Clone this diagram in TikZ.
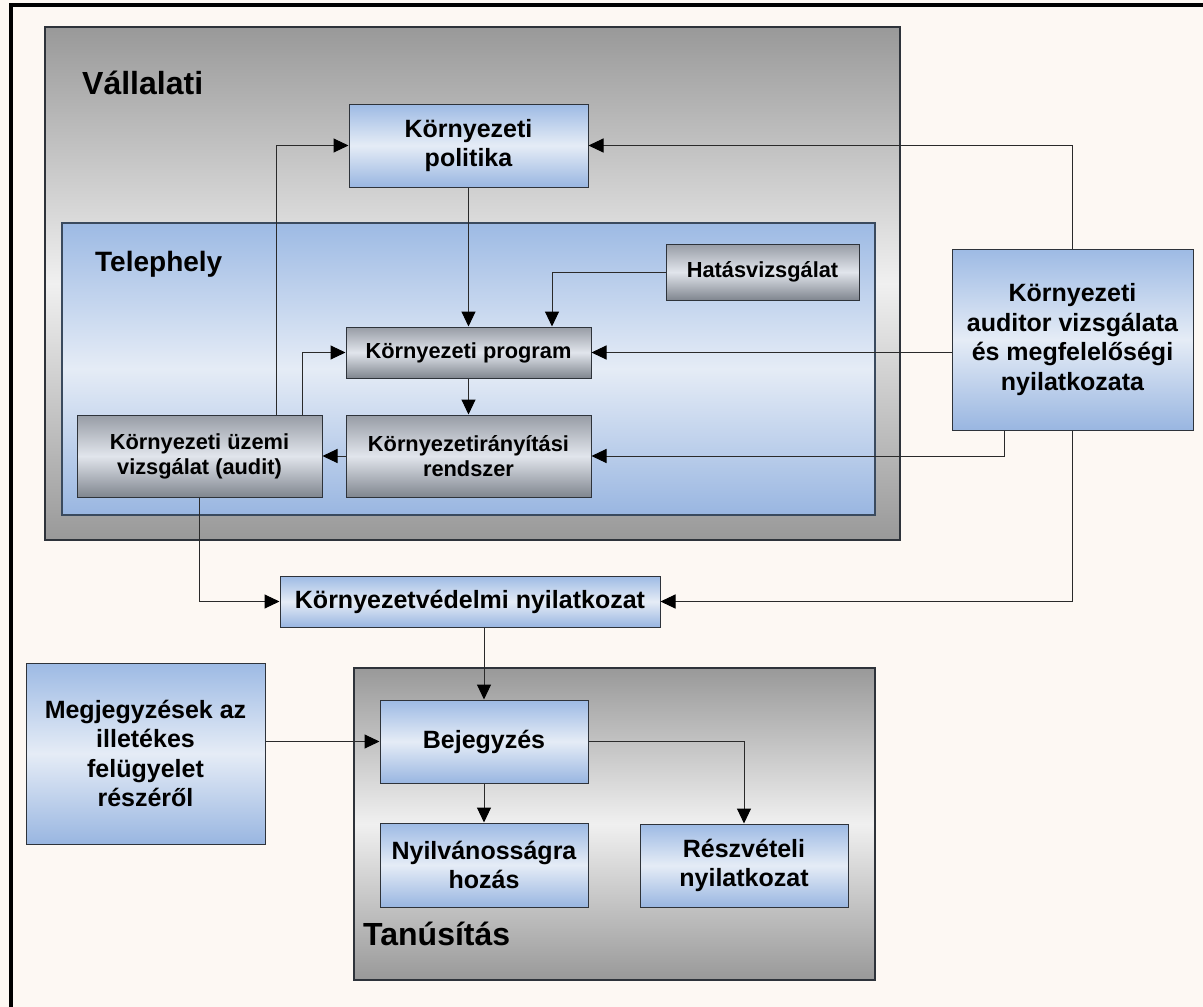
\documentclass[tikz,border=0pt]{standalone}
\usepackage{fontspec}
\setmainfont{Liberation Sans}
\usetikzlibrary{arrows.meta}

% colours
\definecolor{paper}{HTML}{FDF8F3}
\definecolor{grayedge}{HTML}{999999}
\definecolor{graymid}{HTML}{F0F0F0}
\definecolor{bluetop}{HTML}{9DBAE4}
\definecolor{bluemid}{HTML}{E5ECF6}
\definecolor{bluebot}{HTML}{99B6E1}
\definecolor{steeltop}{HTML}{979CA5}
\definecolor{steelmid}{HTML}{E1E5EC}
\definecolor{steelbot}{HTML}{80868F}
\definecolor{edge}{HTML}{2E333A}
\definecolor{siteedge}{HTML}{3A4A5E}
\definecolor{wire}{HTML}{2A2A2A}

% mirrored vertical shadings (bottom -> top)
\pgfdeclareverticalshading{greyband}{100bp}{color(0bp)=(grayedge); color(25bp)=(grayedge); color(50bp)=(graymid); color(75bp)=(grayedge); color(100bp)=(grayedge)}
\pgfdeclareverticalshading{blueband}{100bp}{color(0bp)=(bluebot); color(25bp)=(bluebot); color(50bp)=(bluemid); color(75bp)=(bluetop); color(100bp)=(bluetop)}
\pgfdeclareverticalshading{steelband}{100bp}{color(0bp)=(steelbot); color(25bp)=(steelbot); color(50bp)=(steelmid); color(75bp)=(steeltop); color(100bp)=(steeltop)}

\tikzset{
  area/.style={draw=edge, line width=1.2pt},
  areatitle/.style={anchor=base west, inner sep=0pt, font=\bfseries\fontsize{32}{36}\selectfont},
  bluebox/.style={draw=edge, line width=1pt, shading=blueband, align=center, inner sep=0pt,
    font=\bfseries\fontsize{25}{29.5}\selectfont},
  steelbox/.style={draw=edge, line width=1pt, shading=steelband, align=center, inner sep=0pt,
    font=\bfseries\fontsize{21.8}{25}\selectfont},
  box/.style n args={2}{minimum width=#1pt, minimum height=#2pt},
  arr/.style={draw=wire, line width=1pt, -{Triangle[length=15pt,width=14pt,color=black]}},
}

\begin{document}
\begin{tikzpicture}[x=1pt,y=-1pt]
\useasboundingbox (0,0) rectangle (1203,1007);
\fill[paper] (0,0) rectangle (1203,1007);
% outer frame, running off the right and bottom edges
\draw[black, line width=4pt] (11,1020) -- (11,5) -- (1220,5);

% grouping areas
\path[area, shading=greyband] (45,27) rectangle (900,540);
\node[areatitle] (vallt) at (82,94) {Vállalati};
\path[area, shading=blueband, draw=siteedge, line width=1.6pt] (62,223) rectangle (875,515);
\node[areatitle, font=\bfseries\fontsize{28}{32}\selectfont] (telt) at (95,271) {Telephely};
\path[area, shading=greyband] (354,668) rectangle (875,980);
\node[areatitle] (tant) at (363,945) {Tanúsítás};

% process boxes
\node[bluebox, box={239}{83}] (pol) at (468.5,145.5) {Környezeti\\politika};
\node[steelbox, box={193}{56}] (hat) at (762.5,272) {Hatásvizsgálat};
\node[steelbox, box={245}{51}] (prog) at (468.5,352.5) {Környezeti program};
\node[steelbox, box={245}{82}] (ems) at (468.5,456) {Környezetirányítási\\rendszer};
\node[steelbox, box={245}{82}] (audit) at (199.5,456) {Környezeti üzemi\\vizsgálat (audit)};
\node[bluebox, box={241}{181}] (auditor) at (1072.5,339.5) {Környezeti\\auditor vizsgálata\\és megfelelőségi\\nyilatkozata};
\node[bluebox, box={380}{51}] (kvny) at (470,601.5) {Környezetvédelmi nyilatkozat};
\node[bluebox, box={239}{181}] (megj) at (145.5,753.5) {Megjegyzések az\\illetékes\\felügyelet\\részéről};
\node[bluebox, box={208}{83}] (bej) at (484,741.5) {Bejegyzés};
\node[bluebox, box={208}{84}] (nyilv) at (484,865) {Nyilvánosságra\\hozás};
\node[bluebox, box={208}{83}] (resz) at (744,865.5) {Részvételi\\nyilatkozat};

% connectors
\draw[arr] ([xshift=76.5pt]audit.north) |- (pol.west);
\draw[arr] ([xshift=102.5pt]audit.north) |- (prog.west);
\draw[arr] (pol.south) -- (prog.north);
\draw[arr] (hat.west) -| ([xshift=83.5pt]prog.north);
\draw[arr] (auditor.west |- prog.east) -- (prog.east);
\draw[arr] ([xshift=-68.5pt]auditor.south) |- (ems.east);
\draw[arr] (auditor.north) |- (pol.east);
\draw[arr] (auditor.south) |- (kvny.east);
\draw[arr] (prog.south) -- (ems.north);
\draw[arr] (ems.west) -- (audit.east);
\draw[arr] (audit.south) |- (kvny.west);
\draw[arr] (bej.north |- kvny.south) -- (bej.north);
\draw[arr] (megj.east |- bej.west) -- (bej.west);
\draw[arr] (bej.south) -- (nyilv.north);
\draw[arr] (bej.east) -| (resz.north);
\end{tikzpicture}
\end{document}
